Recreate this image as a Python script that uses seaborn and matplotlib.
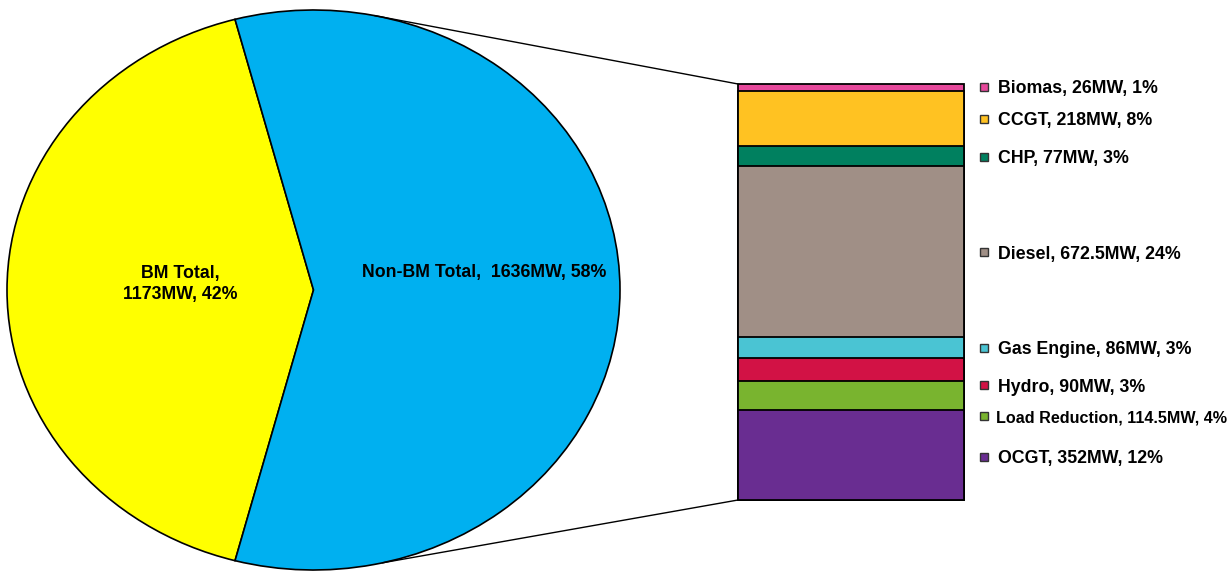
import numpy as np
import matplotlib
matplotlib.use("Agg")
import matplotlib.pyplot as plt
from matplotlib.patches import ConnectionPatch, Rectangle
import seaborn as sns

# --- data ---
pie_labels = ["BM Total,\n1173MW, 42%", "Non-BM Total,  1636MW, 58%"]
pie_values = [1173, 1636]
pie_colors = ["#FFFF00", "#00B0F0"]

sources = ["Biomas", "CCGT", "CHP", "Diesel", "Gas Engine", "Hydro",
           "Load Reduction", "OCGT"]
source_mw = [26, 218, 77, 672.5, 86, 90, 114.5, 352]
source_pct = [1, 8, 3, 24, 3, 3, 4, 12]
source_colors = ["#E6489B", "#FFC222", "#00805F", "#A08F86", "#4AC4D3",
                 "#D21245", "#79B42F", "#692D91"]

sns.set_theme(style="white")
plt.rcParams["font.family"] = ["Liberation Sans", "DejaVu Sans"]
plt.rcParams["text.color"] = "black"

W, H = 1230, 571
fig = plt.figure(figsize=(W / 100, H / 100), dpi=100)


def px(x, y):
    # pixel position (from top-left) -> figure fraction
    return x / W, 1 - y / H


# --- pie (drawn as an ellipse) ---
ax_pie = fig.add_axes([7 / W, 1 / H, 613 / W, 560 / H])
share = pie_values[0] / sum(pie_values)
start = 180 - share * 180
wedges, _ = ax_pie.pie(pie_values, colors=pie_colors, startangle=start,
                       counterclock=True,
                       wedgeprops=dict(edgecolor="black", linewidth=1.2))
for w in wedges:
    w.set_clip_on(False)
ax_pie.set_aspect("auto")
ax_pie.set_xlim(-1, 1)
ax_pie.set_ylim(-1, 1)
ax_pie.axis("off")
ax_pie.text(-0.436, 0.022, pie_labels[0], ha="center", va="center",
            fontsize=12.8, fontweight="bold", linespacing=1.3, color="black")
ax_pie.text(0.556, 0.061, pie_labels[1], ha="center", va="center",
            fontsize=12.8, fontweight="bold", color="black")

# --- stacked bar for the Non-BM breakdown ---
ax_bar = fig.add_axes([738 / W, 71 / H, 226 / W, 416 / H])
tops = np.cumsum(source_mw[::-1])[::-1]   # cumulative height, top item first
total = tops[0]
for top, col in zip(tops, source_colors):
    sns.barplot(x=["Non-BM"], y=[top], color=col, saturation=1, width=0.8,
                edgecolor="black", linewidth=1.3, errorbar=None, ax=ax_bar)
ax_bar.set_xlim(-0.4, 0.4)
ax_bar.set_ylim(0, total)
ax_bar.axis("off")
for p in ax_bar.patches:
    p.set_clip_on(False)

# connector lines from the pie to the bar
for ang, yb in [(78.5, total), (-77.0, 0)]:
    t = np.deg2rad(ang)
    con = ConnectionPatch(xyA=(np.cos(t), np.sin(t)), coordsA=ax_pie.transData,
                          xyB=(-0.4, yb), coordsB=ax_bar.transData,
                          color="black", linewidth=1.0)
    fig.add_artist(con)

# --- legend-style labels ---
label_y = [87, 119, 157, 252, 348, 385, 416, 457]
for name, mw, pct, col, y in zip(sources, source_mw, source_pct,
                                 source_colors, label_y):
    x0, y0 = px(980, y + 4)
    fig.add_artist(Rectangle((x0, y0), 8 / W, 8 / H, transform=fig.transFigure,
                             facecolor=col, edgecolor="#333333", linewidth=1.0))
    small = name == "Load Reduction"
    tx, ty = px(996 if small else 998, y + 2)
    fig.text(tx, ty, f"{name}, {mw:g}MW, {pct}%", ha="left", va="center",
             fontsize=11.6 if small else 12.8, fontweight="bold", color="black")

fig.savefig("out.png", dpi=100)
